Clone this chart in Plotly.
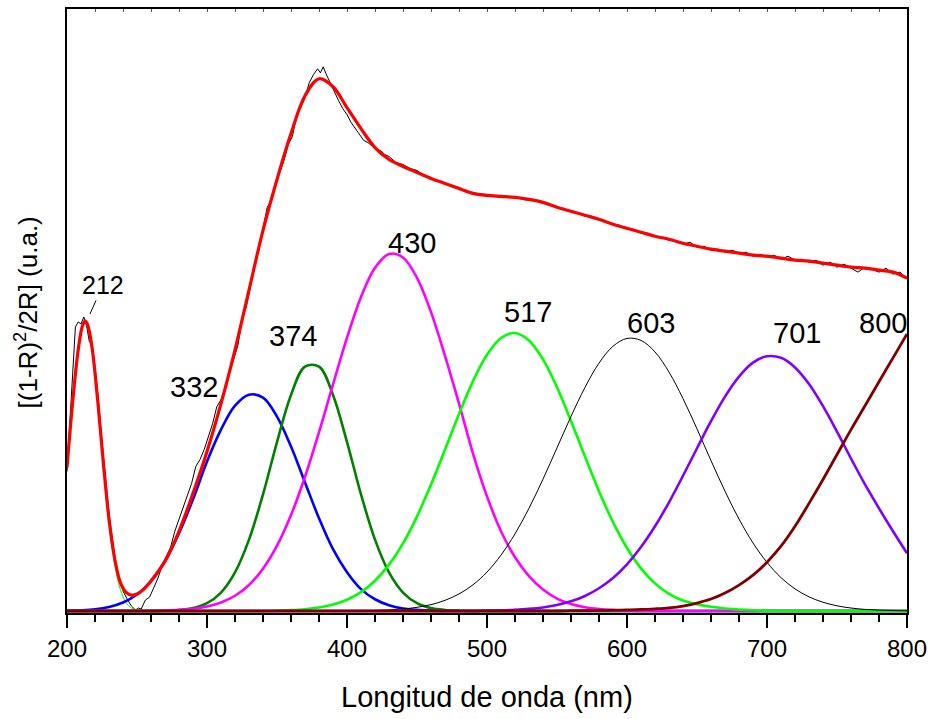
import plotly.graph_objects as go

# ---------------- data ----------------
# experimental spectrum
exp_x = [200, 202, 204, 206, 208, 210, 212, 214, 216, 218, 220, 222, 225, 230, 235, 240, 243, 246, 249, 251,
         253, 256, 259, 262, 265, 268, 271, 274, 277, 280, 283, 286, 289, 292, 295, 298, 301, 304, 307, 310,
         313, 316, 319, 322, 325, 328, 331, 334, 337, 340, 343, 346, 349, 352, 355, 358, 361, 364, 367, 370,
         373, 376, 379, 381, 383, 385, 388, 391, 394, 397, 400, 403, 406, 409, 412, 415, 418, 421, 424, 427,
         430, 435, 440, 445, 450, 455, 460, 465, 470, 475, 480, 485, 490, 495, 500, 505, 510, 515, 520, 525,
         530, 535, 540, 545, 550, 555, 560, 565, 570, 575, 580, 585, 590, 595, 600, 605, 610, 615, 620, 625,
         630, 635, 640, 645, 650, 655, 660, 665, 670, 675, 680, 685, 690, 695, 700, 705, 710, 715, 720, 725,
         730, 735, 740, 745, 750, 755, 760, 765, 770, 775, 780, 785, 790, 795, 800]
exp_y = [1.40, 1.90, 2.45, 2.85, 2.90, 2.88, 2.95, 2.86, 2.70, 2.68, 2.45, 2.18, 1.70, 0.98, 0.45, 0.20, 0.12, 0.05, 0.01, 0.03,
         0.02, 0.11, 0.14, 0.24, 0.33, 0.46, 0.55, 0.64, 0.80, 0.92, 1.02, 1.14, 1.28, 1.45, 1.52, 1.62, 1.75, 1.88, 2.05, 2.12,
         2.25, 2.38, 2.52, 2.66, 2.92, 3.05, 3.25, 3.48, 3.62, 3.84, 4.05, 4.12, 4.28, 4.40, 4.52, 4.68, 4.76, 4.98, 5.05, 5.15,
         5.30, 5.38, 5.44, 5.40, 5.46, 5.39, 5.30, 5.20, 5.12, 5.04, 4.98, 4.90, 4.84, 4.78, 4.72, 4.70, 4.66, 4.63, 4.62, 4.58,
         4.56, 4.50, 4.48, 4.44, 4.42, 4.37, 4.35, 4.31, 4.29, 4.27, 4.25, 4.21, 4.20, 4.18, 4.18, 4.16, 4.17, 4.15, 4.16, 4.13,
         4.12, 4.12, 4.09, 4.08, 4.05, 4.04, 4.00, 3.99, 3.96, 3.96, 3.92, 3.91, 3.88, 3.87, 3.83, 3.83, 3.79, 3.79, 3.76, 3.75,
         3.72, 3.71, 3.68, 3.70, 3.65, 3.66, 3.62, 3.63, 3.60, 3.62, 3.59, 3.60, 3.56, 3.58, 3.55, 3.57, 3.53, 3.56, 3.52, 3.53,
         3.50, 3.52, 3.47, 3.50, 3.45, 3.48, 3.44, 3.40, 3.45, 3.43, 3.40, 3.44, 3.38, 3.40, 3.33]

# cumulative fit (red)
fit_x = [200, 204, 208, 211, 213, 215, 218, 222, 226, 230, 234, 238, 242, 246, 250, 255, 260,
         270, 280, 290, 300, 310, 320, 330, 340, 350, 360, 370, 380, 390, 400, 410, 420, 430, 440,
         450, 460, 470, 480, 490, 500, 510, 520, 530, 540, 550, 560, 570, 580, 590, 600, 610, 620,
         630, 640, 650, 660, 670, 680, 690, 700, 710, 720, 730, 740, 750, 760, 770, 780, 790, 800]
fit_y = [1.44, 2.09, 2.62, 2.86, 2.91, 2.86, 2.63, 2.10, 1.48, 0.92, 0.53, 0.29, 0.19, 0.16, 0.17, 0.22, 0.30,
         0.50, 0.80, 1.18, 1.60, 2.08, 2.62, 3.22, 3.82, 4.33, 4.79, 5.17, 5.34, 5.26, 5.05, 4.84, 4.65, 4.53, 4.46,
         4.40, 4.34, 4.29, 4.24, 4.19, 4.17, 4.16, 4.15, 4.13, 4.10, 4.05, 4.01, 3.97, 3.93, 3.88, 3.84, 3.80, 3.76,
         3.73, 3.69, 3.66, 3.63, 3.61, 3.59, 3.57, 3.56, 3.54, 3.52, 3.51, 3.49, 3.47, 3.45, 3.44, 3.42, 3.40, 3.34]

# component at 212 nm
c212_x = [200, 204, 208, 211, 213, 215, 218, 222, 226, 230, 234, 238, 242, 246, 250, 255, 260, 300, 400, 500, 600, 700, 800]
c212_y = [1.45, 2.08, 2.62, 2.86, 2.91, 2.86, 2.63, 2.08, 1.45, 0.88, 0.47, 0.22, 0.09, 0.03, 0.01, 0.0, 0.0, 0.0, 0.0, 0.0, 0.0, 0.0, 0.0]

# other components on a 10 nm grid (200 ... 800)
comp_x = list(range(200, 801, 10))
c332 = [0.002, 0.006, 0.016, 0.040, 0.085, 0.165, 0.30, 0.50, 0.78, 1.12, 1.50, 1.82, 2.06, 2.17, 2.14, 1.95, 1.65, 1.29,
        0.93, 0.62, 0.39, 0.22, 0.118, 0.058, 0.026, 0.011, 0.004, 0, 0, 0, 0, 0, 0, 0, 0, 0, 0, 0, 0, 0, 0,
        0, 0, 0, 0, 0, 0, 0, 0, 0, 0, 0, 0, 0, 0, 0, 0, 0, 0, 0, 0]
c374 = [0, 0, 0, 0, 0, 0, 0, 0.003, 0.010, 0.029, 0.078, 0.185, 0.387, 0.716, 1.17, 1.695, 2.168, 2.452, 2.452, 2.168,
        1.695, 1.17, 0.716, 0.387, 0.185, 0.078, 0.029, 0.010, 0.003, 0, 0, 0, 0, 0, 0, 0, 0, 0, 0, 0, 0,
        0, 0, 0, 0, 0, 0, 0, 0, 0, 0, 0, 0, 0, 0, 0, 0, 0, 0, 0, 0]
c430 = [0, 0, 0, 0, 0, 0, 0, 0.005, 0.011, 0.023, 0.046, 0.086, 0.153, 0.261, 0.424, 0.655, 0.963, 1.347, 1.794, 2.274,
        2.743, 3.151, 3.443, 3.582, 3.547, 3.343, 2.999, 2.560, 2.081, 1.58, 1.15, 0.80, 0.54, 0.35, 0.215, 0.125, 0.07,
        0.038, 0.02, 0.01, 0.005, 0, 0, 0, 0, 0, 0, 0, 0, 0, 0, 0, 0, 0, 0, 0, 0, 0, 0, 0, 0]
c517 = [0, 0, 0, 0, 0, 0, 0, 0, 0, 0, 0, 0, 0, 0, 0, 0.004, 0.009, 0.018, 0.035, 0.065, 0.113, 0.190, 0.304, 0.465,
        0.679, 0.950, 1.269, 1.620, 1.977, 2.307, 2.571, 2.739, 2.789, 2.715, 2.525, 2.245, 1.907, 1.549, 1.202, 0.891,
        0.632, 0.428, 0.277, 0.172, 0.105, 0.068, 0.042, 0.025, 0.014, 0.007, 0.003, 0, 0, 0, 0, 0, 0, 0, 0, 0, 0]
c603 = [0, 0, 0, 0, 0, 0, 0, 0, 0, 0, 0, 0, 0, 0, 0, 0, 0, 0, 0, 0, 0, 0, 0.006, 0.011, 0.021, 0.037, 0.064, 0.107,
        0.171, 0.263, 0.391, 0.561, 0.774, 1.031, 1.323, 1.637, 1.952, 2.244, 2.487, 2.656, 2.735, 2.715, 2.599, 2.397,
        2.131, 1.827, 1.509, 1.202, 0.923, 0.683, 0.488, 0.335, 0.222, 0.142, 0.088, 0.052, 0.030, 0.016, 0.009, 0.005, 0.002]
c701 = [0, 0, 0, 0, 0, 0, 0, 0, 0, 0, 0, 0, 0, 0, 0, 0, 0, 0, 0, 0, 0, 0, 0, 0, 0, 0, 0, 0, 0, 0, 0.004, 0.007,
        0.012, 0.021, 0.036, 0.061, 0.097, 0.151, 0.228, 0.332, 0.469, 0.642, 0.850, 1.091, 1.357, 1.633, 1.904, 2.151,
        2.352, 2.492, 2.556, 2.540, 2.444, 2.278, 2.056, 1.80, 1.53, 1.27, 1.03, 0.80, 0.58]
c800 = [0, 0, 0, 0, 0, 0, 0, 0, 0, 0, 0, 0, 0, 0, 0, 0, 0, 0, 0, 0, 0, 0, 0, 0, 0, 0, 0, 0, 0, 0, 0, 0, 0, 0, 0, 0,
        0.003, 0.004, 0.006, 0.008, 0.011, 0.015, 0.022, 0.032, 0.05, 0.08, 0.12, 0.18, 0.26, 0.36, 0.49, 0.65, 0.85,
        1.08, 1.32, 1.57, 1.82, 2.06, 2.30, 2.54, 2.78]

# peak labels
label_text = ["332", "374", "430", "517", "603", "701", "800"]
label_x = [290.7, 361.6, 446.3, 529.2, 617.1, 721.7, 782.8]
label_y = [2.25, 2.76, 3.695, 3.00, 2.885, 2.79, 2.885]
first_label = "212"
first_label_pos = (216.4, 2.98)

x_ticks = [200, 300, 400, 500, 600, 700, 800]

# ---------------- figure ----------------
FONT = "Liberation Sans, Arial, sans-serif"
fig = go.Figure()

fig.add_trace(go.Scatter(x=exp_x, y=exp_y, mode="lines", line=dict(color="black", width=1), hoverinfo="skip"))

comps = [
    (c332, "#0000FF", 2.6),
    (c374, "#008000", 2.6),
    (c430, "#FF00FF", 2.6),
    (c517, "#00FF00", 2.6),
    (c603, "#000000", 1.0),
    (c701, "#8000FF", 2.6),
    (c800, "#800000", 2.8),
]
fig.add_trace(go.Scatter(x=c212_x, y=c212_y, mode="lines", line=dict(color="#00FF00", width=1, shape="spline")))
for ys, col, w in comps:
    fig.add_trace(go.Scatter(x=comp_x, y=ys, mode="lines", line=dict(color=col, width=w, shape="spline", smoothing=1.0)))

fig.add_trace(go.Scatter(x=fit_x, y=fit_y, mode="lines", line=dict(color="#FF0000", width=3.2, shape="spline", smoothing=1.0)))

# carrier for the top (inner) tick axis
fig.add_trace(go.Scatter(x=fit_x, y=fit_y, xaxis="x2", mode="lines", opacity=0, line=dict(width=0), hoverinfo="skip"))

for t, lx, ly in zip(label_text, label_x, label_y):
    fig.add_annotation(x=lx, y=ly, text=t, showarrow=False, xanchor="center", yanchor="middle",
                       font=dict(family=FONT, size=29, color="black"))
fig.add_annotation(x=first_label_pos[0], y=first_label_pos[1], text=first_label, showarrow=True,
                   arrowhead=0, arrowwidth=1, arrowcolor="black", ax=13, ay=-29, standoff=0,
                   font=dict(family=FONT, size=25, color="black"))

fig.add_annotation(xref="paper", yref="paper", x=0.5, y=-0.1386, text="Longitud de onda (nm)",
                   showarrow=False, xanchor="center", yanchor="middle",
                   font=dict(family=FONT, size=29, color="black"))
fig.add_annotation(xref="paper", yref="paper", x=-0.0486, y=0.498, text="[(1-R)<sup>2</sup>/2R] (u.a.)",
                   showarrow=False, xanchor="center", yanchor="middle", textangle=-90,
                   font=dict(family=FONT, size=26, color="black"))

fig.update_layout(
    width=934, height=719,
    margin=dict(l=67, r=24, t=7, b=106),
    paper_bgcolor="white", plot_bgcolor="white",
    showlegend=False,
    font=dict(family=FONT, color="black"),
    xaxis=dict(range=[200, 800], tickvals=x_ticks, ticks="outside", ticklen=13, tickwidth=2, tickcolor="black",
               showline=True, linewidth=2, linecolor="black", mirror=True, showgrid=False, zeroline=False,
               tickfont=dict(family=FONT, size=24, color="black"),
               minor=dict(dtick=20, tick0=200, ticks="outside", ticklen=7, tickwidth=2, tickcolor="black", showgrid=False)),
    xaxis2=dict(range=[200, 800], overlaying="x", side="top", anchor="y", ticks="inside", ticklen=3, tickwidth=1,
                tickcolor="#555555", dtick=20, tick0=200, showticklabels=False, showline=False, showgrid=False,
                zeroline=False),
    yaxis=dict(range=[-0.02, 6.04], showticklabels=False, ticks="", showline=True, linewidth=2, linecolor="black",
               mirror=True, showgrid=False, zeroline=False),
)

fig.write_html("out.html", config={"displayModeBar": False},
               post_script="document.body.style.margin='0px';")
